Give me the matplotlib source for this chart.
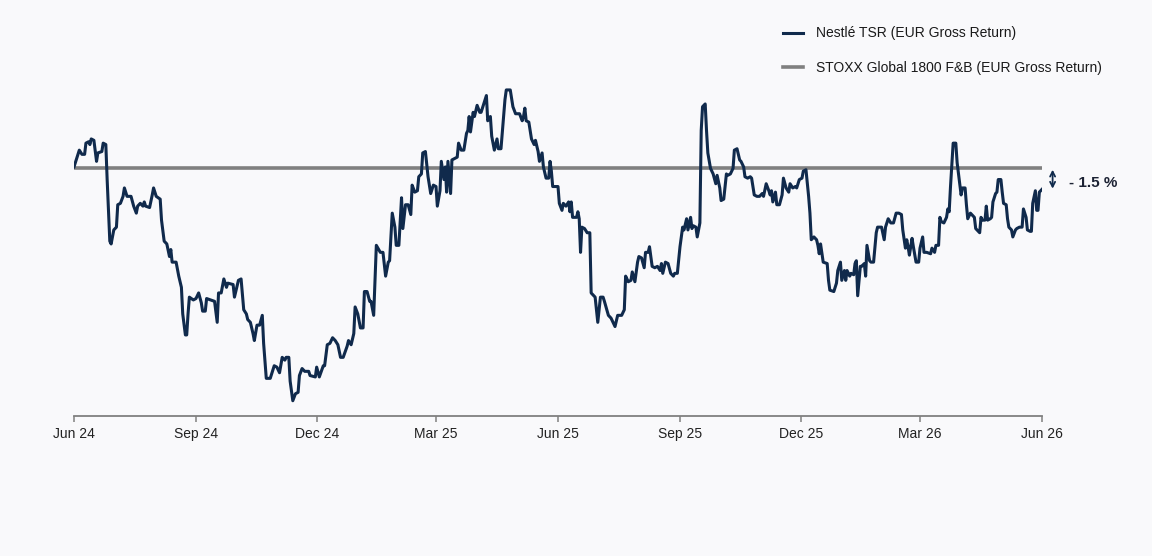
import numpy as np
import pandas as pd
import matplotlib
matplotlib.use("Agg")
import matplotlib.pyplot as plt
import matplotlib.dates as mdates

plt.rcParams['font.family'] = ['Liberation Sans', 'DejaVu Sans']

# Data: days since 1 Jun 2024, Nestlé TSR relative to STOXX Global 1800 F&B (%)
start = pd.Timestamp('2024-06-01')
days = [0, 2, 4, 6, 8, 9, 11, 12, 13, 15, 17, 18, 21, 22, 24, 25, 27, 28, 30, 32,
        33, 35, 37, 38, 40, 43, 45, 47, 48, 50, 52, 53, 54, 57, 59, 60, 62, 65, 66, 68,
        70, 72, 73, 74, 77, 79, 81, 82, 84, 85, 86, 87, 90, 92, 94, 96, 97, 99, 100, 103,
        106, 108, 109, 111, 113, 115, 116, 120, 121, 124, 126, 128, 130, 131, 133, 135, 136, 138, 140, 142,
        143, 145, 148, 151, 153, 155, 157, 159, 160, 162, 163, 165, 167, 169, 170, 172, 174, 177, 178, 182,
        183, 185, 188, 189, 191, 193, 195, 197, 199, 201, 203, 206, 207, 209, 211, 212, 214, 216, 218, 219,
        221, 223, 224, 226, 228, 231, 233, 235, 237, 238, 240, 242, 243, 245, 247, 248, 250, 252, 254, 255,
        257, 259, 260, 262, 263, 265, 267, 269, 271, 273, 274, 276, 277, 279, 280, 281, 282, 284, 285, 287,
        289, 290, 292, 294, 296, 297, 298, 299, 301, 302, 304, 306, 307, 309, 311, 312, 314, 315, 317, 319,
        320, 322, 324, 325, 326, 329, 331, 333, 336, 338, 339, 340, 341, 343, 345, 347, 348, 350, 351, 353,
        354, 356, 358, 359, 360, 361, 365, 366, 368, 369, 371, 373, 374, 375, 376, 379, 380, 381, 382, 383,
        385, 387, 389, 390, 392, 393, 395, 397, 399, 400, 403, 405, 408, 410, 413, 415, 416, 418, 420, 421,
        423, 425, 426, 428, 430, 431, 433, 434, 436, 438, 440, 442, 443, 444, 446, 448, 450, 452, 453, 455,
        457, 459, 460, 462, 463, 465, 466, 467, 469, 470, 472, 473, 474, 476, 477, 478, 480, 482, 484, 485,
        487, 488, 490, 492, 493, 495, 497, 498, 500, 502, 503, 505, 506, 508, 510, 511, 513, 515, 517, 519,
        520, 522, 524, 525, 526, 527, 529, 530, 532, 534, 535, 537, 539, 540, 542, 544, 545, 547, 549, 550,
        552, 554, 555, 556, 558, 560, 561, 562, 563, 565, 568, 569, 570, 573, 575, 576, 578, 579, 581, 582,
        583, 585, 586, 588, 589, 590, 591, 593, 594, 596, 597, 598, 600, 601, 603, 605, 606, 609, 611, 612,
        614, 616, 618, 620, 622, 624, 625, 627, 628, 629, 630, 632, 633, 635, 637, 638, 640, 641, 643, 646,
        647, 649, 650, 652, 653, 654, 656, 658, 659, 660, 661, 663, 665, 666, 668, 669, 670, 672, 673, 674,
        676, 677, 679, 680, 681, 683, 684, 685, 687, 688, 689, 691, 692, 693, 695, 696, 697, 699, 700, 701,
        703, 704, 705, 707, 708, 710, 711, 713, 715, 716, 718, 719, 721, 722, 723, 725, 726, 727, 728, 730]
nestle_rel = [0.1, 0.7, 1.3, 1.0, 1.0, 1.8, 1.9, 1.7, 2.1, 2.0, 0.5, 1.1, 1.2, 1.8, 1.7, -0.8, -5.2, -5.4, -4.4, -4.2,
              -2.6, -2.5, -2.0, -1.4, -2.0, -2.0, -2.7, -3.2, -2.7, -2.5, -2.7, -2.4, -2.7, -2.8, -1.9, -1.4, -2.0, -2.2, -3.7, -5.2,
              -5.4, -6.3, -5.8, -6.7, -6.7, -7.7, -8.5, -10.4, -11.9, -11.9, -10.4, -9.2, -9.4, -9.3, -8.9, -9.6, -10.2, -10.2, -9.3, -9.4,
              -9.5, -11.0, -8.9, -8.9, -7.9, -8.5, -8.2, -8.3, -9.2, -8.0, -7.9, -10.1, -10.4, -10.8, -11.0, -11.8, -12.3, -11.2, -11.2, -10.5,
              -12.5, -15.0, -15.0, -14.1, -14.2, -14.6, -13.5, -13.7, -13.5, -13.5, -15.2, -16.6, -16.1, -16.0, -14.8, -14.3, -14.5, -14.5, -14.8, -14.9,
              -14.2, -14.9, -14.1, -14.1, -12.6, -12.5, -12.1, -12.3, -12.6, -13.5, -13.5, -12.7, -12.3, -12.6, -11.8, -9.9, -10.4, -11.4, -11.4, -8.8,
              -8.8, -9.5, -9.5, -10.5, -5.5, -6.0, -6.0, -7.7, -6.7, -6.6, -3.2, -4.2, -5.5, -5.5, -2.1, -4.3, -2.6, -2.6, -3.3, -1.2,
              -1.7, -1.6, -0.6, -0.4, 1.1, 1.2, -0.6, -1.8, -1.2, -1.3, -2.7, -1.6, 0.5, -0.8, 0.1, -1.7, 0.5, -1.8, 0.6, 0.7,
              0.8, 1.8, 1.3, 1.3, 2.5, 2.7, 3.7, 2.6, 4.0, 3.7, 4.5, 4.0, 4.0, 4.6, 5.2, 3.4, 3.7, 2.3, 1.3, 2.1,
              1.4, 1.4, 3.7, 4.9, 5.6, 5.6, 4.4, 3.9, 3.9, 3.4, 3.7, 4.3, 3.4, 3.3, 2.1, 1.7, 2.0, 1.2, 0.5, 1.1,
              0.1, -0.7, -0.7, 0.5, -0.2, -1.3, -1.3, -2.5, -3.0, -2.5, -2.7, -2.4, -3.1, -2.4, -3.5, -3.5, -3.1, -3.6, -6.0, -4.2,
              -4.3, -4.6, -4.6, -8.9, -9.1, -9.2, -11.0, -9.2, -9.2, -9.5, -10.5, -10.7, -11.3, -10.5, -10.5, -10.1, -7.7, -8.1, -8.0, -7.4,
              -8.1, -6.7, -6.3, -6.4, -7.1, -6.0, -6.0, -5.6, -7.0, -7.1, -7.0, -7.3, -6.8, -7.5, -6.7, -6.8, -7.5, -7.7, -7.5, -7.5,
              -5.6, -4.2, -4.4, -3.6, -4.4, -3.5, -4.3, -4.1, -4.2, -4.9, -3.9, 2.7, 4.4, 4.6, 2.7, 1.1, 0.0, -0.4, -1.1, -0.5,
              -1.4, -2.3, -2.2, -0.4, -0.5, -0.4, 0.0, 1.3, 1.4, 0.6, 0.5, 0.1, -0.6, -0.7, -0.6, -0.7, -1.9, -2.0, -2.0, -1.8,
              -2.0, -1.1, -1.6, -1.9, -1.6, -2.4, -1.7, -2.6, -2.6, -1.9, -0.7, -1.4, -1.7, -1.1, -1.4, -1.3, -1.4, -0.8, -0.7, -0.2,
              -0.1, -2.0, -3.2, -5.1, -4.9, -5.1, -5.5, -6.1, -5.4, -6.7, -6.8, -8.0, -8.7, -8.8, -8.2, -7.3, -6.7, -8.0, -7.3, -8.0,
              -7.3, -7.7, -7.5, -7.6, -6.8, -6.6, -9.1, -7.0, -7.0, -6.8, -7.7, -5.5, -6.6, -6.7, -6.7, -4.6, -4.2, -4.2, -5.1, -4.2,
              -3.6, -3.9, -3.9, -3.2, -3.2, -3.3, -4.4, -5.7, -5.1, -5.6, -6.2, -5.0, -5.6, -6.7, -6.7, -5.7, -4.9, -6.0, -6.0, -6.1,
              -5.7, -6.0, -5.5, -5.5, -3.5, -3.8, -3.9, -3.5, -2.9, -3.1, -1.3, 1.8, 1.8, 0.4, -1.1, -1.9, -1.4, -1.4, -2.6, -3.6,
              -3.2, -3.3, -3.5, -4.3, -4.4, -4.6, -3.5, -3.7, -3.7, -2.7, -3.7, -3.6, -3.5, -2.4, -1.8, -1.7, -0.8, -0.8, -1.7, -2.5,
              -2.6, -3.6, -4.2, -4.4, -4.9, -4.4, -4.3, -4.2, -4.2, -2.9, -3.5, -4.4, -4.5, -4.5, -2.5, -1.6, -3.0, -3.0, -1.7, -1.5]
benchmark_rel = 0.0

tick_months = [3, 6, 9, 12]
legend_labels = ['Nestlé TSR (EUR Gross Return)', 'STOXX Global 1800 F&B (EUR Gross Return)']

dates = start + pd.to_timedelta(days, unit='D')
end = pd.Timestamp('2026-06-01')

bg = '#f9f9fb'
navy = '#102a4c'
grey = '#808080'

fig = plt.figure(figsize=(11.52, 5.56), dpi=100, facecolor=bg)
ax = fig.add_axes([74 / 1152, 140 / 556, 968 / 1152, 336 / 556], facecolor=bg)

ax.axhline(benchmark_rel, color=grey, lw=2.6, label=legend_labels[1], zorder=2)
ax.plot(dates, nestle_rel, color=navy, lw=2.2, label=legend_labels[0], zorder=3,
        solid_joinstyle='round')

ax.set_xlim(start, end)
ax.set_ylim(-17.69, 6.31)

for s in ['top', 'right', 'left']:
    ax.spines[s].set_visible(False)
ax.spines['bottom'].set_color(grey)
ax.spines['bottom'].set_linewidth(1.3)
ax.set_yticks([])
ax.xaxis.set_major_locator(mdates.MonthLocator(bymonth=tick_months))
ax.xaxis.set_major_formatter(mdates.DateFormatter('%b %y'))
ax.tick_params(axis='x', length=4, width=1.1, color=grey, labelsize=10,
               labelcolor='#222222', pad=4)

# gap annotation at the right end
last = nestle_rel[-1]
arrow_x = end + pd.Timedelta(days=8)
ax.annotate('', xy=(arrow_x, benchmark_rel - 0.1), xytext=(arrow_x, last + 0.05),
            arrowprops=dict(arrowstyle='<->,head_length=0.35,head_width=0.18',
                            color=navy, lw=1.3, shrinkA=0, shrinkB=0),
            annotation_clip=False)
ax.text(end + pd.Timedelta(days=20), last / 2 - 0.3, f'- {abs(last):.1f} %',
        ha='left', va='center', fontsize=11, fontweight='bold', color='#1c2233',
        clip_on=False)

handles, labels = ax.get_legend_handles_labels()
leg = fig.legend(handles[::-1], labels[::-1], loc='upper left',
                 bbox_to_anchor=(770 / 1152, 1 - 14 / 556), frameon=False,
                 fontsize=10, handlelength=1.5, handletextpad=0.9,
                 labelspacing=1.45, labelcolor='#1a1a1a')

fig.savefig('out.png', dpi=100, facecolor=bg)
